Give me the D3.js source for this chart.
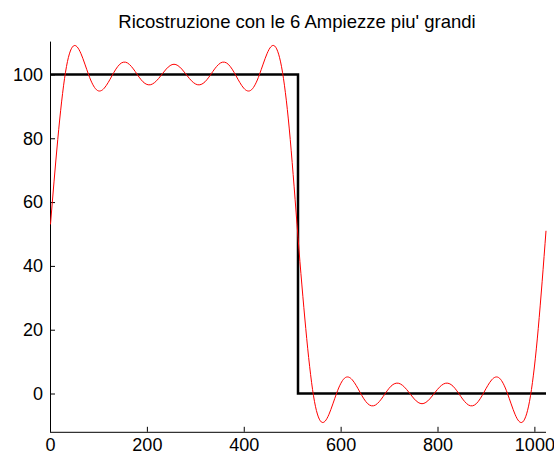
<!DOCTYPE html>
<html>
<head>
<meta charset="utf-8">
<script src="https://cdnjs.cloudflare.com/ajax/libs/d3/7.8.5/d3.min.js"></script>
<style>
    body { margin: 0; background: #fff; }
    svg { display: block; }
    .axis path, .axis line { stroke: #000; }
    .axis text { font: 18px "Liberation Sans", Arial, sans-serif; fill: #000; }
</style>
</head>
<body>
<svg></svg>
<script>
// square wave (original signal)
let stepX = [1, 512, 512, 1024],
    stepY = [100, 100, 0, 0];

// reconstruction with the 6 biggest amplitudes, read every 16 samples
let reconX = [1, 16, 32, 48, 64, 80, 96, 112, 128, 144, 160, 176, 192, 208, 224, 240, 256,
    272, 288, 304, 320, 336, 352, 368, 384, 400, 416, 432, 448, 464, 480, 496, 512,
    528, 544, 560, 576, 592, 608, 624, 640, 656, 672, 688, 704, 720, 736, 752, 768,
    784, 800, 816, 832, 848, 864, 880, 896, 912, 928, 944, 960, 976, 992, 1008, 1024];
let reconY = [53, 79.6, 100.7, 108.9, 106.5, 99.8, 95.2, 95.7, 99.6, 103.2, 103.6, 100.9, 97.7, 96.8, 98.7, 101.7, 103.2,
    101.7, 98.7, 96.8, 97.7, 100.9, 103.6, 103.2, 99.6, 95.7, 95.2, 99.8, 106.5, 108.9, 100.7, 79.6, 49,
    20.4, -0.7, -8.9, -6.5, 0.2, 4.8, 4.3, 0.4, -3.2, -3.6, -0.9, 2.3, 3.2, 1.3, -1.7, -3.2,
    -1.7, 1.3, 3.2, 2.3, -0.9, -3.6, -3.2, 0.4, 4.3, 4.8, 0.2, -6.5, -8.9, -0.7, 20.4, 51];

let xTicks = [0, 200, 400, 600, 800, 1000],
    yTicks = [0, 20, 40, 60, 80, 100];

let title = "Ricostruzione con le 6 Ampiezze piu' grandi";

let svg = d3.select("svg").attr("width", 554).attr("height", 455);

let x = d3.scaleLinear().domain([0, 1024]).range([50, 546]),
    y = d3.scaleLinear().domain([-12, 110.3]).range([431.8, 41.6]);

let line = d3.line()
    .x(function(d) { return x(d[0]); })
    .y(function(d) { return y(d[1]); });

// title
svg.append("text")
    .text(title)
    .attr("x", 297)
    .attr("y", 27.5)
    .attr("text-anchor", "middle")
    .style("font", "18.5px 'Liberation Sans', Arial, sans-serif");

// x axis, ticks pointing inward
let xAxis = svg.append("g")
    .attr("class", "axis")
    .attr("transform", "translate(0," + y(-12) + ")")
    .call(d3.axisBottom(x).tickValues(xTicks).tickFormat(d3.format("d"))
        .tickSizeInner(-5).tickSizeOuter(0).tickPadding(6));
xAxis.select(".domain").attr("d", "M" + x(0) + ",0.5H" + x(1024));

// y axis
let yAxis = svg.append("g")
    .attr("class", "axis")
    .attr("transform", "translate(" + x(0) + ",0)")
    .call(d3.axisLeft(y).tickValues(yTicks).tickFormat(d3.format("d"))
        .tickSizeInner(-5).tickSizeOuter(0).tickPadding(7));
yAxis.select(".domain").attr("d", "M0.5," + y(110.3) + "V" + y(-12));

// original square wave
svg.append("path")
    .datum(stepX.map(function(d, i) { return [d, stepY[i]]; }))
    .attr("fill", "none")
    .attr("stroke", "#000")
    .attr("stroke-width", 2.5)
    .attr("d", line);

// reconstructed signal
svg.append("path")
    .datum(reconX.map(function(d, i) { return [d, reconY[i]]; }))
    .attr("fill", "none")
    .attr("stroke", "#ff0000")
    .attr("stroke-width", 1)
    .attr("d", line.curve(d3.curveNatural));
</script>
</body>
</html>
